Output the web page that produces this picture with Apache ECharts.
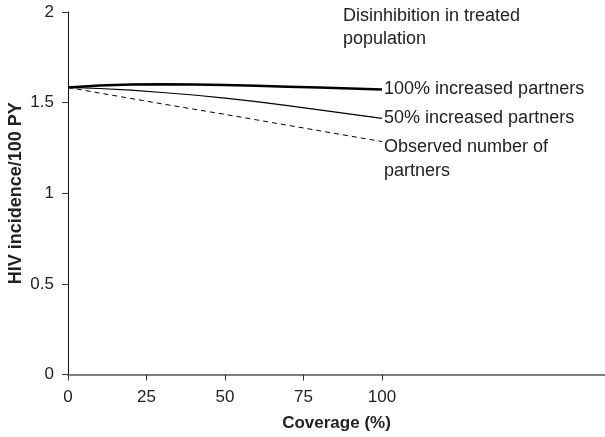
<!DOCTYPE html>
<html>
<head>
<meta charset="utf-8">
<script src="https://cdn.jsdelivr.net/npm/echarts@6/dist/echarts.min.js"></script>
<style>
  html, body { margin: 0; padding: 0; background: #fff; }
  #chart { width: 605px; height: 437px; }
</style>
</head>
<body>
<div id="chart"></div>
<script>
// Treatment coverage (%) and modelled HIV incidence per 100 person-years
const coverage = [0, 10, 20, 30, 40, 50, 60, 70, 80, 90, 100];
const increased100 = [1.584, 1.595, 1.600, 1.601, 1.600, 1.597, 1.593, 1.588, 1.583, 1.578, 1.573];
const increased50 = [1.584, 1.578, 1.569, 1.556, 1.542, 1.525, 1.505, 1.483, 1.460, 1.437, 1.413];
const observed = [1.584, 1.553, 1.523, 1.493, 1.464, 1.435, 1.405, 1.375, 1.345, 1.315, 1.285];

const xTicks = [0, 25, 50, 75, 100];
const seriesNames = ['100% increased partners', '50% increased partners', 'Observed number of\npartners'];
const titleLines = 'Disinhibition in treated\npopulation';

const FONT = '"Liberation Sans", Arial, Helvetica, sans-serif';
const pairs = ys => coverage.map((x, i) => [x, ys[i]]);

const chart = echarts.init(document.getElementById('chart'), null, { renderer: 'canvas' });

function lineSeries(name, ys, width, type, offset) {
  return {
    type: 'line',
    name: name,
    data: pairs(ys),
    showSymbol: false,
    smooth: false,
    silent: true,
    lineStyle: { color: '#000', width: width, type: type },
    endLabel: {
      show: true,
      formatter: () => name,
      color: '#222',
      fontFamily: FONT,
      fontSize: 18,
      lineHeight: 24,
      distance: 2,
      offset: offset
    }
  };
}

chart.setOption({
  animation: false,
  backgroundColor: '#fff',
  grid: { left: 68, right: 0, top: 12, bottom: 62.5, containLabel: false, outerBoundsMode: 'none' },
  xAxis: {
    type: 'value',
    min: 0,
    max: 171,
    name: 'Coverage (%)',
    nameLocation: 'middle',
    nameGap: 40,
    nameMoveOverlap: false,
    nameTextStyle: { fontFamily: FONT, fontSize: 17, fontWeight: 'bold', color: '#222' },
    axisLine: { show: true, onZero: false, lineStyle: { color: '#808080', width: 2 } },
    axisTick: { show: true, length: 6, customValues: xTicks, lineStyle: { color: '#333', width: 1 } },
    axisLabel: { customValues: xTicks, margin: 14, fontFamily: FONT, fontSize: 17, color: '#222' },
    splitLine: { show: false }
  },
  yAxis: {
    type: 'value',
    min: 0,
    max: 2,
    interval: 0.5,
    name: 'HIV incidence/100 PY',
    nameLocation: 'middle',
    nameGap: 43,
    nameMoveOverlap: false,
    nameTextStyle: { fontFamily: FONT, fontSize: 18, fontWeight: 'bold', color: '#222' },
    axisLine: { show: true, lineStyle: { color: '#111', width: 1 } },
    axisTick: { show: true, length: 6, lineStyle: { color: '#333', width: 1 } },
    axisLabel: { margin: 14, fontFamily: FONT, fontSize: 17, color: '#222' },
    splitLine: { show: false }
  },
  graphic: [{
    type: 'text',
    left: 343,
    top: 5,
    silent: true,
    style: { text: titleLines, fontFamily: FONT, fontSize: 18, lineHeight: 23, fill: '#222' }
  }],
  series: [
    lineSeries(seriesNames[0], increased100, 2.5, 'solid', [0, 0]),
    lineSeries(seriesNames[1], increased50, 1.2, 'solid', [0, 0]),
    lineSeries(seriesNames[2], observed, 1, [5, 4], [0, 17])
  ]
});
</script>
</body>
</html>
